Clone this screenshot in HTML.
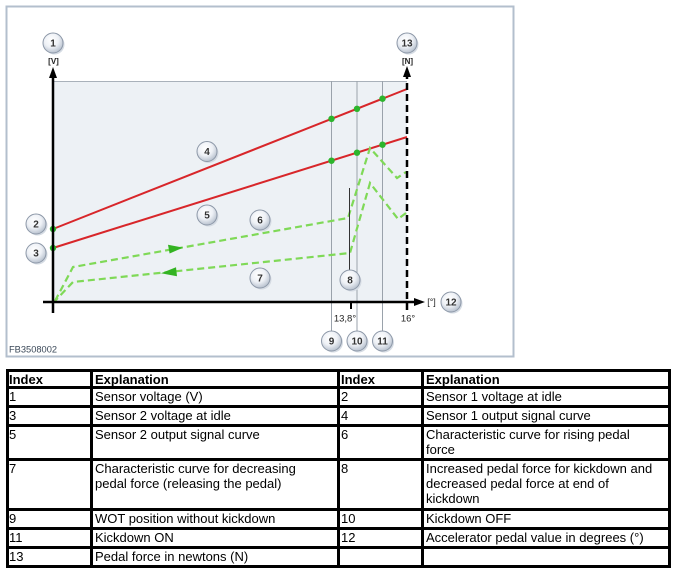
<!DOCTYPE html>
<html>
<head>
<meta charset="utf-8">
<style>
  html, body { margin: 0; padding: 0; background: #ffffff; }
  body { width: 681px; height: 574px; overflow: hidden; position: relative; }
  svg { position: absolute; left: 0; top: 0; }
</style>
</head>
<body>
<svg width="681" height="574" viewBox="0 0 681 574" xmlns="http://www.w3.org/2000/svg">
  <defs>
    <radialGradient id="cg" cx="42%" cy="35%" r="65%">
      <stop offset="0%" stop-color="#ffffff"/>
      <stop offset="55%" stop-color="#eef1f6"/>
      <stop offset="100%" stop-color="#b9c2cf"/>
    </radialGradient>
  </defs>

  <!-- frame -->
  <rect x="6.5" y="6.5" width="507" height="350" fill="#ffffff" stroke="#b3bfcd" stroke-width="2"/>

  <!-- plot fill -->
  <rect x="53" y="81" width="354" height="221" fill="#edf1f5"/>
  <line x1="53" y1="81.5" x2="407" y2="81.5" stroke="#a9b1ba" stroke-width="1"/>

  <!-- grey vertical guides -->
  <g stroke="#9aa2ab" stroke-width="1">
    <line x1="331.5" y1="81" x2="331.5" y2="331"/>
    <line x1="357" y1="81" x2="357" y2="331"/>
    <line x1="382.5" y1="81" x2="382.5" y2="331"/>
  </g>

  <!-- red sensor lines -->
  <g stroke="#d8262a" stroke-width="2" fill="none">
    <line x1="53" y1="229" x2="407" y2="89"/>
    <line x1="53" y1="248" x2="407" y2="137"/>
  </g>

  <!-- green dashed force curves -->
  <g stroke="#7fd957" stroke-width="2.2" fill="none" stroke-dasharray="7,4">
    <polyline points="55,301 73,267 348,218 370,148 397,178 406,172"/>
    <polyline points="406,213 398,219 370,183 350,253 73,282 55,301"/>
  </g>
  <!-- arrowheads -->
  <polygon points="183,247.6 168,244.7 169.6,253.5" fill="#33b322"/>
  <polygon points="161,273.2 176,267.2 177,276.2" fill="#33b322"/>

  <!-- callout 8 line -->
  <line x1="349.5" y1="188" x2="349.5" y2="270" stroke="#333" stroke-width="1"/>

  <!-- green dots -->
  <g fill="#2cb52c">
    <circle cx="53" cy="229" r="3.2"/>
    <circle cx="53" cy="248" r="3.2"/>
    <circle cx="331.5" cy="118.8" r="3.2"/>
    <circle cx="357" cy="108.8" r="3.2"/>
    <circle cx="382.5" cy="98.7" r="3.2"/>
    <circle cx="331.5" cy="160.7" r="3.2"/>
    <circle cx="357" cy="152.7" r="3.2"/>
    <circle cx="382.5" cy="144.7" r="3.2"/>
  </g>

  <!-- axes -->
  <line x1="53" y1="313" x2="53" y2="76" stroke="#000" stroke-width="2.5"/>
  <polygon points="53,67 49,78 57,78" fill="#000"/>
  <line x1="43" y1="302" x2="415" y2="302" stroke="#000" stroke-width="2.5"/>
  <polygon points="425,302 414,298 414,306" fill="#000"/>
  <line x1="407" y1="310" x2="407" y2="77" stroke="#000" stroke-width="2.5" stroke-dasharray="7,4"/>
  <polygon points="407,66 403,77 411,77" fill="#000"/>
  <line x1="351" y1="302" x2="351" y2="309" stroke="#000" stroke-width="2"/>

  <!-- axis labels -->
  <g font-family="Liberation Sans, Arial, sans-serif" fill="#222">
    <text x="53.5" y="64" font-size="8" font-weight="bold" text-anchor="middle">[V]</text>
    <text x="407.5" y="64" font-size="8" font-weight="bold" text-anchor="middle">[N]</text>
    <text x="431.5" y="305" font-size="9" text-anchor="middle">[°]</text>
    <text x="345" y="321.5" font-size="9.5" text-anchor="middle">13,8°</text>
    <text x="408" y="321.5" font-size="9.5" text-anchor="middle">16°</text>
    <text x="9" y="352.7" font-size="9.3" fill="#3a4858">FB3508002</text>
  </g>

  <!-- callout circles -->
  <g font-family="Liberation Sans, Arial, sans-serif" font-size="10" font-weight="bold" fill="#333" text-anchor="middle">
    <g>
      <circle cx="54.5" cy="44.5" r="10" fill="#d5dbe3"/>
      <circle cx="53" cy="43" r="10" fill="url(#cg)" stroke="#8d98a8" stroke-width="1"/>
      <text x="53" y="46.6">1</text>
    </g>
    <g>
      <circle cx="37.5" cy="225.5" r="10" fill="#d5dbe3"/>
      <circle cx="36" cy="224" r="10" fill="url(#cg)" stroke="#8d98a8" stroke-width="1"/>
      <text x="36" y="227.6">2</text>
    </g>
    <g>
      <circle cx="37.5" cy="254.5" r="10" fill="#d5dbe3"/>
      <circle cx="36" cy="253" r="10" fill="url(#cg)" stroke="#8d98a8" stroke-width="1"/>
      <text x="36" y="256.6">3</text>
    </g>
    <g>
      <circle cx="208.5" cy="153" r="10" fill="#d5dbe3"/>
      <circle cx="207" cy="151.5" r="10" fill="url(#cg)" stroke="#8d98a8" stroke-width="1"/>
      <text x="207" y="155.1">4</text>
    </g>
    <g>
      <circle cx="208.5" cy="216.5" r="10" fill="#d5dbe3"/>
      <circle cx="207" cy="215" r="10" fill="url(#cg)" stroke="#8d98a8" stroke-width="1"/>
      <text x="207" y="218.6">5</text>
    </g>
    <g>
      <circle cx="261.5" cy="221.5" r="10" fill="#d5dbe3"/>
      <circle cx="260" cy="220" r="10" fill="url(#cg)" stroke="#8d98a8" stroke-width="1"/>
      <text x="260" y="223.6">6</text>
    </g>
    <g>
      <circle cx="261.5" cy="279.5" r="10" fill="#d5dbe3"/>
      <circle cx="260" cy="278" r="10" fill="url(#cg)" stroke="#8d98a8" stroke-width="1"/>
      <text x="260" y="281.6">7</text>
    </g>
    <g>
      <circle cx="351.5" cy="281.5" r="10" fill="#d5dbe3"/>
      <circle cx="350" cy="280" r="10" fill="url(#cg)" stroke="#8d98a8" stroke-width="1"/>
      <text x="350" y="283.6">8</text>
    </g>
    <g>
      <circle cx="333" cy="342.5" r="10" fill="#d5dbe3"/>
      <circle cx="331.5" cy="341" r="10" fill="url(#cg)" stroke="#8d98a8" stroke-width="1"/>
      <text x="331.5" y="344.6">9</text>
    </g>
    <g>
      <circle cx="358.5" cy="342.5" r="10" fill="#d5dbe3"/>
      <circle cx="357" cy="341" r="10" fill="url(#cg)" stroke="#8d98a8" stroke-width="1"/>
      <text x="357" y="344.6">10</text>
    </g>
    <g>
      <circle cx="384" cy="342.5" r="10" fill="#d5dbe3"/>
      <circle cx="382.5" cy="341" r="10" fill="url(#cg)" stroke="#8d98a8" stroke-width="1"/>
      <text x="382.5" y="344.6">11</text>
    </g>
    <g>
      <circle cx="452.5" cy="303.5" r="10" fill="#d5dbe3"/>
      <circle cx="451" cy="302" r="10" fill="url(#cg)" stroke="#8d98a8" stroke-width="1"/>
      <text x="451" y="305.6">12</text>
    </g>
    <g>
      <circle cx="408.5" cy="44.5" r="10" fill="#d5dbe3"/>
      <circle cx="407" cy="43" r="10" fill="url(#cg)" stroke="#8d98a8" stroke-width="1"/>
      <text x="407" y="46.6">13</text>
    </g>
  </g>

  <!-- TABLE grid -->
  <g fill="#000">
    <rect x="6" y="369" width="665" height="3"/>
    <rect x="6" y="386" width="665" height="3"/>
    <rect x="6" y="405" width="665" height="3"/>
    <rect x="6" y="424" width="665" height="3"/>
    <rect x="6" y="458" width="665" height="3"/>
    <rect x="6" y="508" width="665" height="3"/>
    <rect x="6" y="527" width="665" height="3"/>
    <rect x="6" y="546" width="665" height="3"/>
    <rect x="6" y="565" width="665" height="3"/>
    <rect x="6" y="369" width="3" height="199"/>
    <rect x="90" y="369" width="3" height="199"/>
    <rect x="337" y="369" width="3" height="199"/>
    <rect x="421" y="369" width="3" height="199"/>
    <rect x="668" y="369" width="3" height="199"/>
  </g>

  <!-- TABLE text -->
  <g font-family="Liberation Sans, Arial, sans-serif" font-size="13" fill="#000">
    <text x="9" y="384" font-weight="bold">Index</text>
    <text x="95" y="384" font-weight="bold">Explanation</text>
    <text x="341" y="384" font-weight="bold">Index</text>
    <text x="426" y="384" font-weight="bold">Explanation</text>

    <text x="9" y="401">1</text>
    <text x="95" y="401">Sensor voltage (V)</text>
    <text x="341" y="401">2</text>
    <text x="426" y="401">Sensor 1 voltage at idle</text>

    <text x="9" y="420">3</text>
    <text x="95" y="420">Sensor 2 voltage at idle</text>
    <text x="341" y="420">4</text>
    <text x="426" y="420">Sensor 1 output signal curve</text>

    <text x="9" y="439">5</text>
    <text x="95" y="439">Sensor 2 output signal curve</text>
    <text x="341" y="439">6</text>
    <text x="426" y="439">Characteristic curve for rising pedal</text>
    <text x="426" y="454">force</text>

    <text x="9" y="473">7</text>
    <text x="95" y="473">Characteristic curve for decreasing</text>
    <text x="95" y="488">pedal force (releasing the pedal)</text>
    <text x="341" y="473">8</text>
    <text x="426" y="473">Increased pedal force for kickdown and</text>
    <text x="426" y="488">decreased pedal force at end of</text>
    <text x="426" y="503">kickdown</text>

    <text x="9" y="523">9</text>
    <text x="95" y="523">WOT position without kickdown</text>
    <text x="341" y="523">10</text>
    <text x="426" y="523">Kickdown OFF</text>

    <text x="9" y="542">11</text>
    <text x="95" y="542">Kickdown ON</text>
    <text x="341" y="542">12</text>
    <text x="426" y="542">Accelerator pedal value in degrees (°)</text>

    <text x="9" y="561">13</text>
    <text x="95" y="561">Pedal force in newtons (N)</text>
  </g>
</svg>
</body>
</html>
